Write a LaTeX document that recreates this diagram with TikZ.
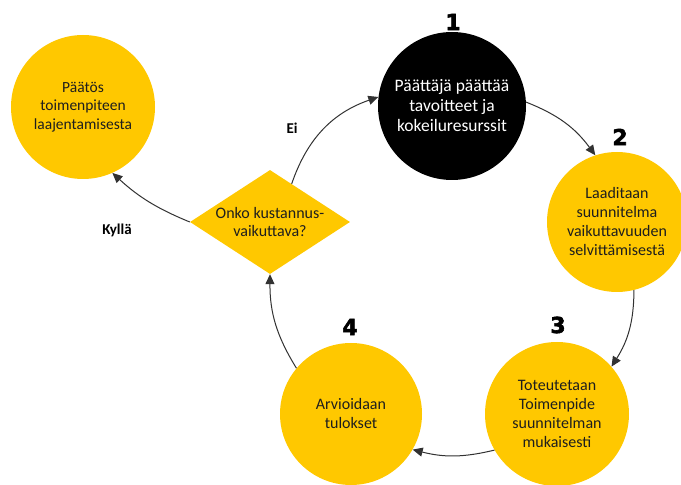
\documentclass[tikz,border=0pt]{standalone}
\usepackage{fontspec}
\setmainfont{Carlito}
\newfontfamily\numfont{DejaVu Sans}[BoldFeatures={FakeBold=2.5}]
\usetikzlibrary{shapes.geometric,arrows.meta,calc}
\definecolor{gold}{RGB}{255,200,0}
\definecolor{ink}{RGB}{30,30,30}
\definecolor{arrowgray}{RGB}{50,50,50}
\begin{document}
\begin{tikzpicture}[x=1pt,y=1pt,
  stepcircle/.style={circle, fill=gold, draw=none, inner sep=0pt, align=center,
    font=\fontsize{16}{19}\selectfont, text=ink},
  numlabel/.style={font=\numfont\bfseries\fontsize{22}{22}\selectfont, text=black},
  flow/.style={draw=arrowgray, line width=1pt, -{Triangle[length=10pt,width=9pt]}},
  answer/.style={font=\bfseries\fontsize{15}{17}\selectfont, text=black}
]
\useasboundingbox (0,0) rectangle (681,485);
\fill[white] (0,0) rectangle (681,485);

\node[stepcircle, minimum size=144pt, font=\fontsize{15.5}{18.5}\selectfont] (paatos) at (83,378) {Päätös\\toimenpiteen\\laajentamisesta};
\node[stepcircle, fill=black, text=white, minimum size=148pt, font=\fontsize{17.5}{20}\selectfont] (c1) at (452,379) {Päättäjä päättää\\tavoitteet ja\\kokeiluresurssit};
\node[stepcircle, minimum size=140pt] (c2) at (617,263) {Laaditaan\\suunnitelma\\vaikuttavuuden\\selvittämisestä};
\node[stepcircle, minimum size=144pt] (c3) at (557,71) {Toteutetaan\\Toimenpide\\suunnitelman\\mukaisesti};
\node[stepcircle, minimum size=142pt] (c4) at (351,71) {Arvioidaan\\tulokset};
\node[diamond, fill=gold, draw=none, inner xsep=-12pt, inner ysep=-7pt, minimum width=160pt, minimum height=104pt,
  align=center, font=\fontsize{16}{18}\selectfont, text=ink] (d) at (270,263) {Onko kustannus-\\vaikuttava?};

\node[numlabel] (n1) at (453,463) {1};
\node[numlabel] (n2) at (620,348) {2};
\node[numlabel] (n3) at (558,160) {3};
\node[numlabel] (n4) at (350,158) {4};
\node[answer] (ei) at (292,357) {Ei};
\node[answer] (kylla) at (117,255) {Kyllä};

\coordinate (dtop) at ($(d.north)!0.27!(d.east)$);
\draw[flow] (c1.3) to[bend left=16] (c2.108);
\draw[flow] (c2.-76) to[bend left=16] (c3.41);
\draw[flow] (c3.210) to[bend left=14] (c4.-30);
\draw[flow] (c4.140) to[bend left=16] (d.south);
\draw[flow] (dtop) to[bend left=26] (c1.173);
\draw[flow] (d.west) to[bend left=10] (paatos.-66);
\end{tikzpicture}
\end{document}
